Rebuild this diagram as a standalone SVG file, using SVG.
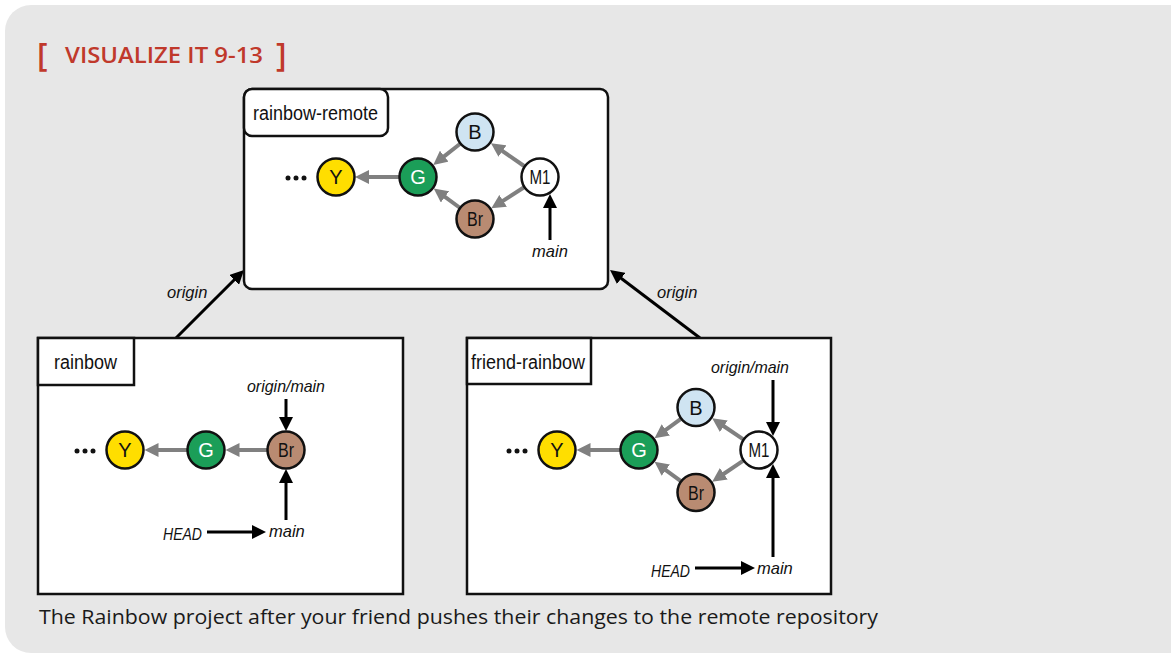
<svg xmlns="http://www.w3.org/2000/svg" width="1171" height="655" viewBox="0 0 1171 655">
<style>
.box{fill:#fff;stroke:#111;stroke-width:2.5}
.node{stroke:#111;stroke-width:2.5}
.nl{font-family:"Liberation Sans",Arial,sans-serif;font-size:20px;text-anchor:middle;fill:#111}
.bl{font-family:"Liberation Sans",Arial,sans-serif;font-size:20px;fill:#111}
.it{font-family:"Liberation Sans",Arial,sans-serif;font-size:16.5px;font-style:italic;fill:#111}
.ga{stroke:#808080;stroke-width:4;fill:none}
.ba{stroke:#000;stroke-width:3;fill:none}
.dot{fill:#111}
</style>
<defs>
<marker id="mg" viewBox="0 0 14 14" refX="3" refY="7" markerWidth="14" markerHeight="14" markerUnits="userSpaceOnUse" orient="auto"><path d="M0,0 L14,7 L0,14 z" fill="#808080"/></marker>
<marker id="mb" viewBox="0 0 14 14" refX="1" refY="7" markerWidth="14" markerHeight="14" markerUnits="userSpaceOnUse" orient="auto"><path d="M0,0 L14,7 L0,14 z" fill="#000"/></marker>
</defs>
<rect x="5" y="5" width="1200" height="648" rx="26" fill="#e7e7e7"/>
<g id="title" fill="#c0392b" font-family="'Open Sans','Liberation Sans',sans-serif" font-weight="600">
<text x="37" y="66" font-size="32">[</text>
<text x="65" y="63" font-size="22" textLength="198" lengthAdjust="spacingAndGlyphs">VISUALIZE IT 9-13</text>
<text x="276" y="66" font-size="32">]</text>
</g>
<g id="connectors">
<line class="ba" x1="176" y1="338" x2="234.8" y2="279.2" marker-end="url(#mb)"/>
<line class="ba" x1="700" y1="338" x2="620.4" y2="277.8" marker-end="url(#mb)"/>
<text class="it" x="167" y="298">origin</text>
<text class="it" x="657" y="298">origin</text>
</g>
<g id="rainbow-remote">
<rect class="box" x="244" y="89" width="364" height="200" rx="8"/>
<rect class="box" x="244" y="89" width="144" height="47" rx="8"/>
<text class="bl" x="253" y="120" textLength="125" lengthAdjust="spacingAndGlyphs">rainbow-remote</text>
<g id="remote-edges">
<line class="ga" x1="399" y1="177" x2="366" y2="177" marker-end="url(#mg)"/>
<line class="ga" x1="524.8" y1="166.5" x2="500" y2="149.4" marker-end="url(#mg)"/>
<line class="ga" x1="460.5" y1="143.5" x2="441.9" y2="158.1" marker-end="url(#mg)"/>
<line class="ga" x1="524.5" y1="187" x2="500.6" y2="202.4" marker-end="url(#mg)"/>
<line class="ga" x1="460.1" y1="208" x2="442.6" y2="195.1" marker-end="url(#mg)"/>
<line class="ba" x1="550" y1="240" x2="550" y2="207" marker-end="url(#mb)"/>
</g>
<circle class="dot" cx="288" cy="178" r="2.5"/><circle class="dot" cx="296" cy="178" r="2.5"/><circle class="dot" cx="304" cy="178" r="2.5"/>
<g id="r-Y"><circle class="node" cx="336" cy="177" r="18.5" fill="#ffde00"/><text class="nl" x="336" y="184">Y</text></g>
<g id="r-G"><circle class="node" cx="418" cy="177" r="18.5" fill="#1b9e58"/><text class="nl" x="418" y="184" style="fill:#fff">G</text></g>
<g id="r-B"><circle class="node" cx="475" cy="132" r="18.5" fill="#cfe4f2"/><text class="nl" x="475" y="139">B</text></g>
<g id="r-Br"><circle class="node" cx="475" cy="219" r="18.5" fill="#b98b72"/><text class="nl" x="475" y="226" textLength="16" lengthAdjust="spacingAndGlyphs">Br</text></g>
<g id="r-M1"><circle class="node" cx="540" cy="177" r="18.5" fill="#fff"/><text class="nl" x="540" y="184" textLength="21" lengthAdjust="spacingAndGlyphs">M1</text></g>
<text class="it" x="550" y="257" text-anchor="middle">main</text>
</g>
<g id="rainbow">
<rect class="box" x="38" y="338" width="365" height="256"/>
<rect class="box" x="38" y="338" width="96" height="47"/>
<text class="bl" x="54" y="369" textLength="63" lengthAdjust="spacingAndGlyphs">rainbow</text>
<g id="rainbow-edges">
<line class="ga" x1="187" y1="450" x2="155.5" y2="450" marker-end="url(#mg)"/>
<line class="ga" x1="267" y1="450" x2="236.5" y2="450" marker-end="url(#mg)"/>
<line class="ba" x1="286" y1="399" x2="286" y2="418" marker-end="url(#mb)"/>
<line class="ba" x1="286" y1="520" x2="286" y2="482" marker-end="url(#mb)"/>
<line class="ba" x1="207" y1="532" x2="253" y2="532" marker-end="url(#mb)"/>
</g>
<circle class="dot" cx="77" cy="451" r="2.5"/><circle class="dot" cx="85" cy="451" r="2.5"/><circle class="dot" cx="93" cy="451" r="2.5"/>
<g id="l-Y"><circle class="node" cx="125" cy="450" r="18.5" fill="#ffde00"/><text class="nl" x="125" y="457">Y</text></g>
<g id="l-G"><circle class="node" cx="206" cy="450" r="18.5" fill="#1b9e58"/><text class="nl" x="206" y="457" style="fill:#fff">G</text></g>
<g id="l-Br"><circle class="node" cx="286" cy="450" r="18.5" fill="#b98b72"/><text class="nl" x="286" y="457" textLength="16" lengthAdjust="spacingAndGlyphs">Br</text></g>
<text class="it" x="286" y="392" text-anchor="middle" textLength="78" lengthAdjust="spacingAndGlyphs">origin/main</text>
<text class="it" x="163" y="540" font-size="18" textLength="39" lengthAdjust="spacingAndGlyphs">HEAD</text>
<text class="it" x="269" y="537">main</text>
</g>
<g id="friend-rainbow">
<rect class="box" x="467" y="338" width="364" height="256"/>
<rect class="box" x="467" y="338" width="124" height="46"/>
<text class="bl" x="471" y="369" textLength="114" lengthAdjust="spacingAndGlyphs">friend-rainbow</text>
<g id="friend-edges">
<line class="ga" x1="620" y1="450" x2="587.5" y2="450" marker-end="url(#mg)"/>
<line class="ga" x1="743.7" y1="439.7" x2="721.3" y2="424.5" marker-end="url(#mg)"/>
<line class="ga" x1="681.2" y1="418.6" x2="663.4" y2="431.7" marker-end="url(#mg)"/>
<line class="ga" x1="743.7" y1="460.3" x2="721.3" y2="475.5" marker-end="url(#mg)"/>
<line class="ga" x1="681.2" y1="481.4" x2="663.4" y2="468.3" marker-end="url(#mg)"/>
<line class="ba" x1="773" y1="380" x2="773" y2="423" marker-end="url(#mb)"/>
<line class="ba" x1="773" y1="557" x2="773" y2="477" marker-end="url(#mb)"/>
<line class="ba" x1="695" y1="568" x2="742" y2="568" marker-end="url(#mb)"/>
</g>
<circle class="dot" cx="509" cy="451" r="2.5"/><circle class="dot" cx="517" cy="451" r="2.5"/><circle class="dot" cx="525" cy="451" r="2.5"/>
<g id="f-Y"><circle class="node" cx="557" cy="450" r="18.5" fill="#ffde00"/><text class="nl" x="557" y="457">Y</text></g>
<g id="f-G"><circle class="node" cx="639" cy="450" r="18.5" fill="#1b9e58"/><text class="nl" x="639" y="457" style="fill:#fff">G</text></g>
<g id="f-B"><circle class="node" cx="696" cy="407.5" r="18.5" fill="#cfe4f2"/><text class="nl" x="696" y="414.5">B</text></g>
<g id="f-Br"><circle class="node" cx="696" cy="492.5" r="18.5" fill="#b98b72"/><text class="nl" x="696" y="499.5" textLength="16" lengthAdjust="spacingAndGlyphs">Br</text></g>
<g id="f-M1"><circle class="node" cx="759" cy="450" r="18.5" fill="#fff"/><text class="nl" x="759" y="457" textLength="21" lengthAdjust="spacingAndGlyphs">M1</text></g>
<text class="it" x="750" y="373" text-anchor="middle" textLength="78" lengthAdjust="spacingAndGlyphs">origin/main</text>
<text class="it" x="651" y="577" font-size="18" textLength="39" lengthAdjust="spacingAndGlyphs">HEAD</text>
<text class="it" x="757" y="574">main</text>
</g>
<text id="caption" x="39" y="624" font-family="'Open Sans','Liberation Sans',sans-serif" font-size="20" fill="#1a1a1a" textLength="839" lengthAdjust="spacingAndGlyphs">The Rainbow project after your friend pushes their changes to the remote repository</text>
</svg>
